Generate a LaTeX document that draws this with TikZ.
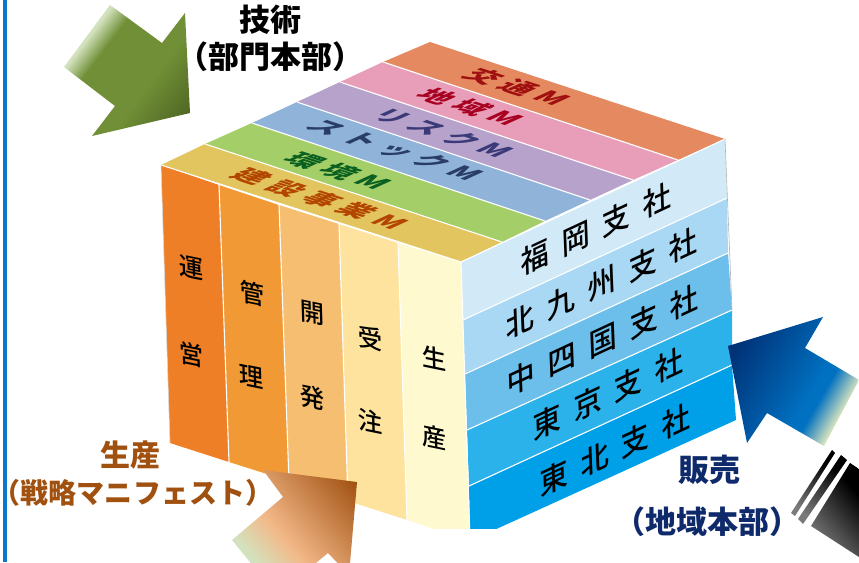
\documentclass[tikz,border=0pt]{standalone}
\usepackage{fontspec}
\setmainfont{Noto Sans CJK JP}
\newfontfamily\mediumcjk{Noto Sans CJK JP Medium}
\usetikzlibrary{positioning}

% arrow and bar gradients
\definecolor{arrowpale}{HTML}{D3E2BE}
\definecolor{olivemid}{HTML}{708F36}
\definecolor{olivedark}{HTML}{4C6221}
\definecolor{navydark}{HTML}{002E73}
\definecolor{navymid}{HTML}{0070C0}
\definecolor{peachmid}{HTML}{F3B888}
\definecolor{brownend}{HTML}{A05010}
\definecolor{bargray}{HTML}{7A7A7A}
\pgfdeclarehorizontalshading{oliveshade}{100bp}{color(0bp)=(arrowpale);color(30bp)=(arrowpale);color(38bp)=(olivemid);color(60bp)=(olivemid);color(82bp)=(olivedark);color(100bp)=(olivedark)}
\pgfdeclarehorizontalshading{navyshade}{100bp}{color(0bp)=(navydark);color(22bp)=(navydark);color(58bp)=(navymid);color(62bp)=(navymid);color(72bp)=(arrowpale);color(100bp)=(arrowpale)}
\pgfdeclarehorizontalshading{brownshade}{100bp}{color(0bp)=(arrowpale);color(26bp)=(arrowpale);color(42bp)=(peachmid);color(82bp)=(brownend);color(100bp)=(brownend)}
\pgfdeclarehorizontalshading{barshade}{100bp}{color(0bp)=(bargray);color(25bp)=(bargray);color(70bp)=(black);color(100bp)=(black)}

\definecolor{prodlabel}{HTML}{A0500F}
\definecolor{saleslabel}{HTML}{0F2A6B}

\tikzset{
  bigfont/.style={font=\fontsize{#1}{#1}\selectfont\bfseries, inner sep=0pt},
  toplabel/.style={cm={.952,-.308,.88,.4,(0,0)}, transform shape, inner sep=0pt,
    font=\fontsize{29}{29}\selectfont\bfseries\addfontfeature{LetterSpace=27}},
  sidelabel/.style={cm={.906,.422,-.04,1,(0,0)}, transform shape, inner sep=0pt,
    font=\fontsize{31}{31}\mediumcjk\addfontfeature{LetterSpace=45}},
  columnlabel/.style={cm={.975,-.2,-.03,1,(0,0)}, transform shape, inner sep=0pt,
    font=\fontsize{25}{25}\mediumcjk},
  divider/.style={draw=white, line width=1.1pt},
}

\begin{document}
\begin{tikzpicture}[x=1pt, y=-1pt]
  \useasboundingbox (0,0) rectangle (859,562);

  % left rule
  \fill[color={rgb,255:red,10;green,119;blue,204}] (2.5,0) rectangle (7,562);

  % Define corners of the block
  \coordinate (top_left) at (161,165);
  \coordinate (top_back) at (430,42);
  \coordinate (top_right) at (725,139);
  \coordinate (top_front) at (461,262);

  \begin{scope}
    \clip (0,0) rectangle (859,528);

    % top face
    \fill[color={rgb,255:red,227;green,197;blue,95}] (161,165) -- (205,144) -- (502,242) -- (461,262) -- cycle;
    \fill[color={rgb,255:red,164;green,206;blue,103}] (205,144) -- (252,123) -- (545,221) -- (502,242) -- cycle;
    \fill[color={rgb,255:red,143;green,179;blue,217}] (252,123) -- (297,102) -- (590,200) -- (545,221) -- cycle;
    \fill[color={rgb,255:red,183;green,162;blue,203}] (297,102) -- (340,82) -- (633,180) -- (590,200) -- cycle;
    \fill[color={rgb,255:red,232;green,157;blue,184}] (340,82) -- (383,62) -- (678,160) -- (633,180) -- cycle;
    \fill[color={rgb,255:red,229;green,138;blue,96}] (383,62) -- (430,42) -- (725,139) -- (678,160) -- cycle;

    % left face
    \fill[color={rgb,255:red,239;green,127;blue,39}] (161,165) -- (219,185) -- (229,462) -- (170,443) -- cycle;
    \fill[color={rgb,255:red,241;green,154;blue,53}] (219,185) -- (279,205) -- (289,481) -- (229,462) -- cycle;
    \fill[color={rgb,255:red,246;green,190;blue,112}] (279,205) -- (339,224) -- (348,501) -- (289,481) -- cycle;
    \fill[color={rgb,255:red,253;green,227;blue,158}] (339,224) -- (398,243) -- (407,520) -- (348,501) -- cycle;
    \fill[color={rgb,255:red,254;green,249;blue,207}] (398,243) -- (461,262) -- (470,541) -- (407,520) -- cycle;

    % right face
    \fill[color={rgb,255:red,210;green,234;blue,248}] (461,262) -- (725,139) -- (727,198) -- (463,320) -- cycle;
    \fill[color={rgb,255:red,168;green,216;blue,243}] (463,320) -- (727,198) -- (728,253) -- (465,374) -- cycle;
    \fill[color={rgb,255:red,109;green,191;blue,235}] (465,374) -- (728,253) -- (732,310) -- (467,430) -- cycle;
    \fill[color={rgb,255:red,44;green,178;blue,235}] (467,430) -- (732,310) -- (732,365) -- (469,486) -- cycle;
    \fill[color={rgb,255:red,0;green,160;blue,233}] (469,486) -- (732,365) -- (736,420) -- (470,541) -- cycle;

    % white seams
    \draw[divider] (205,144) -- (502,242);
    \draw[divider] (252,123) -- (545,221);
    \draw[divider] (297,102) -- (590,200);
    \draw[divider] (340,82) -- (633,180);
    \draw[divider] (383,62) -- (678,160);
    \draw[divider] (219,185) -- (229,462);
    \draw[divider] (279,205) -- (289,481);
    \draw[divider] (339,224) -- (348,501);
    \draw[divider] (398,243) -- (407,520);
    \draw[divider] (463,320) -- (727,198);
    \draw[divider] (465,374) -- (728,253);
    \draw[divider] (467,430) -- (732,310);
    \draw[divider] (469,486) -- (732,365);
    \draw[divider] (top_left) -- (top_front) -- (top_right);
    \draw[divider] (top_front) -- (470,541);
    \draw[gray!60, line width=.6pt] (top_right) -- (732,310);
    \draw[gray!30, line width=.6pt] (top_left) -- (170,443);
  \end{scope}

  % Define labels of the top face
  \node[toplabel, text={rgb,255:red,178;green,70;blue,0}] (kensetsu) at (320,199) {建設事業M};
  \node[toplabel, text={rgb,255:red,10;green,96;blue,32}] (kankyo) at (338,171) {環境M};
  \node[toplabel, text={rgb,255:red,42;green,61;blue,102}] (stock) at (395,150) {ストックM};
  \node[toplabel, text={rgb,255:red,58;green,58;blue,120}] (risk) at (443,133) {リスクM};
  \node[toplabel, text={rgb,255:red,168;green,0;blue,32}] (chiiki) at (470,107) {地域M};
  \node[toplabel, text={rgb,255:red,160;green,16;blue,16}] (kotsu) at (517,87) {交通M};

  % Define labels of the left face
  \node[columnlabel] (un) at (191,268) {運};
  \node[columnlabel] (ei) at (191,354) {営};
  \node[columnlabel] (kan) at (252,293) {管};
  \node[columnlabel] (ri) at (251,377) {理};
  \node[columnlabel] (kai) at (312,313) {開};
  \node[columnlabel] (hatsu) at (312,398) {発};
  \node[columnlabel] (ju) at (370,338) {受};
  \node[columnlabel] (chu) at (370,421) {注};
  \node[columnlabel] (sei) at (434,358) {生};
  \node[columnlabel] (san) at (434,437) {産};

  % Define labels of the right face
  \node[sidelabel] (fukuoka) at (596,229) {福岡支社};
  \node[sidelabel] (kyushu) at (602,283) {北九州支社};
  \node[sidelabel] (chushi) at (603,340) {中四国支社};
  \node[sidelabel] (tokyo) at (608,394) {東京支社};
  \node[sidelabel] (tohoku) at (615,450) {東北支社};

  % arrows
  \shade[shading=oliveshade, shading angle=-37] (110,5) -- (162,43) -- (185,13) -- (190,113) -- (92,136) -- (115,106) -- (64,67) -- cycle;
  \shade[shading=navyshade, shading angle=-30] (728,346) -- (823,317) -- (805,348) -- (859,380) -- (824,446) -- (767,413) -- (747,443) -- cycle;
  \shade[shading=brownshade, shading angle=40] (357,482) -- (263,470) -- (283,497) -- (232,540) -- (258,572) -- (305,572) -- (328,553) -- (349,575) -- cycle;

  % black bars
  \shade[shading=barshade, shading angle=55] (832,450) -- (835,453) -- (795,516) -- (791,513) -- cycle;
  \shade[shading=barshade, shading angle=55] (841,455) -- (847,460) -- (803,524) -- (798,519) -- cycle;
  \shade[shading=barshade, shading angle=40] (850,463) -- (859,469) -- (859,557) -- (811,526) -- cycle;

  % Define outer labels
  \node[bigfont=31] (gijutsu) at (270,20) {技術};
  \node[bigfont=31] (bumon) at (270,57) {\kern-.45em（部門本部）\kern-.45em};
  \node[bigfont=30, text=prodlabel] (seisan) at (130,455) {生産};
  \node[bigfont=28, text=prodlabel] (senryaku) at (133,493) {\kern-.5em（戦略マニフェスト）\kern-.5em};
  \node[bigfont=31, text=saleslabel] (hanbai) at (709,470) {販売};
  \node[bigfont=31, text=saleslabel] (chiikihonbu) at (707,522) {\kern-.45em（地域本部）\kern-.45em};

\end{tikzpicture}
\end{document}
